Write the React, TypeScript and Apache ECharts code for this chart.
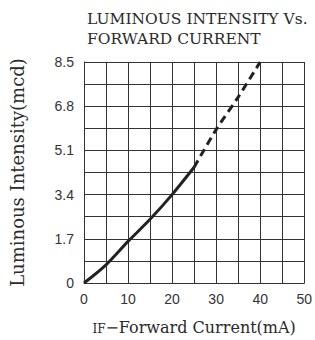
import React, { useEffect, useRef } from "react";
import * as echarts from "echarts";

const titleLines = ["LUMINOUS INTENSITY Vs.", "FORWARD CURRENT"];
const xName = "Forward Current(mA)";
const yName = "Luminous Intensity(mcd)";
const solidData: [number, number][] = [
  [0, 0],
  [5, 0.7],
  [10, 1.6],
  [15, 2.45],
  [20, 3.4],
  [25, 4.45],
];
const dashedData: [number, number][] = [
  [25, 4.45],
  [30, 5.9],
  [35, 7.15],
  [40, 8.5],
];

export default function App() {
  const ref = useRef<HTMLDivElement>(null);
  useEffect(() => {
    if (!ref.current) return;
    const chart = echarts.init(ref.current, null, { renderer: "svg" });
    const serif = "DejaVu Serif";
    chart.setOption({
      animation: false,
      backgroundColor: "#fff",
      title: {
        text: titleLines.join("\n"),
        left: 87,
        top: 9,
        padding: 0,
        textStyle: {
          fontFamily: serif,
          fontSize: 15.5,
          fontWeight: "normal",
          color: "#2a2a2a",
          lineHeight: 20,
        },
      },
      grid: { left: 82.5, right: 4, top: 62, bottom: 51, containLabel: false },
      xAxis: {
        type: "value",
        min: 0,
        max: 50,
        interval: 10,
        name: "{s|IF}{n|−" + xName + "}",
        nameLocation: "middle",
        nameGap: 36,
        nameTextStyle: {
          rich: {
            s: {
              fontFamily: serif,
              fontSize: 12,
              color: "#2a2a2a",
              verticalAlign: "bottom",
            },
            n: { fontFamily: serif, fontSize: 16, color: "#2a2a2a" },
          },
        },
        axisLine: { show: true, onZero: false, lineStyle: { color: "#333", width: 1 } },
        axisTick: { show: false },
        axisLabel: { fontFamily: "Liberation Sans", fontSize: 14, color: "#333", margin: 9 },
        splitLine: { show: true, lineStyle: { color: "#333", width: 1 } },
        minorTick: { show: false, splitNumber: 2 },
        minorSplitLine: { show: true, lineStyle: { color: "#333", width: 1 } },
      },
      yAxis: {
        type: "value",
        min: 0,
        max: 8.5,
        interval: 1.7,
        name: yName,
        nameLocation: "middle",
        nameGap: 58,
        nameTextStyle: { fontFamily: serif, fontSize: 18, color: "#2a2a2a" },
        axisLine: { show: true, onZero: false, lineStyle: { color: "#333", width: 1 } },
        axisTick: { show: false },
        axisLabel: {
          fontFamily: "Liberation Sans",
          fontSize: 14,
          color: "#333",
          margin: 10,
          formatter: (v: number) => (v === 0 ? "0" : (Math.round(v * 10) / 10).toFixed(1)),
        },
        splitLine: { show: true, lineStyle: { color: "#333", width: 1 } },
        minorTick: { show: false, splitNumber: 2 },
        minorSplitLine: { show: true, lineStyle: { color: "#333", width: 1 } },
      },
      series: [
        {
          type: "line",
          data: solidData,
          smooth: 0.3,
          showSymbol: false,
          lineStyle: { color: "#222", width: 3 },
        },
        {
          type: "line",
          data: dashedData,
          smooth: 0.3,
          showSymbol: false,
          lineStyle: { color: "#222", width: 3, type: [8, 5] },
        },
      ],
    });
    return () => chart.dispose();
  }, []);
  return <div ref={ref} style={{ width: 315, height: 340, position: "absolute", left: 0, top: 0 }} />;
}
